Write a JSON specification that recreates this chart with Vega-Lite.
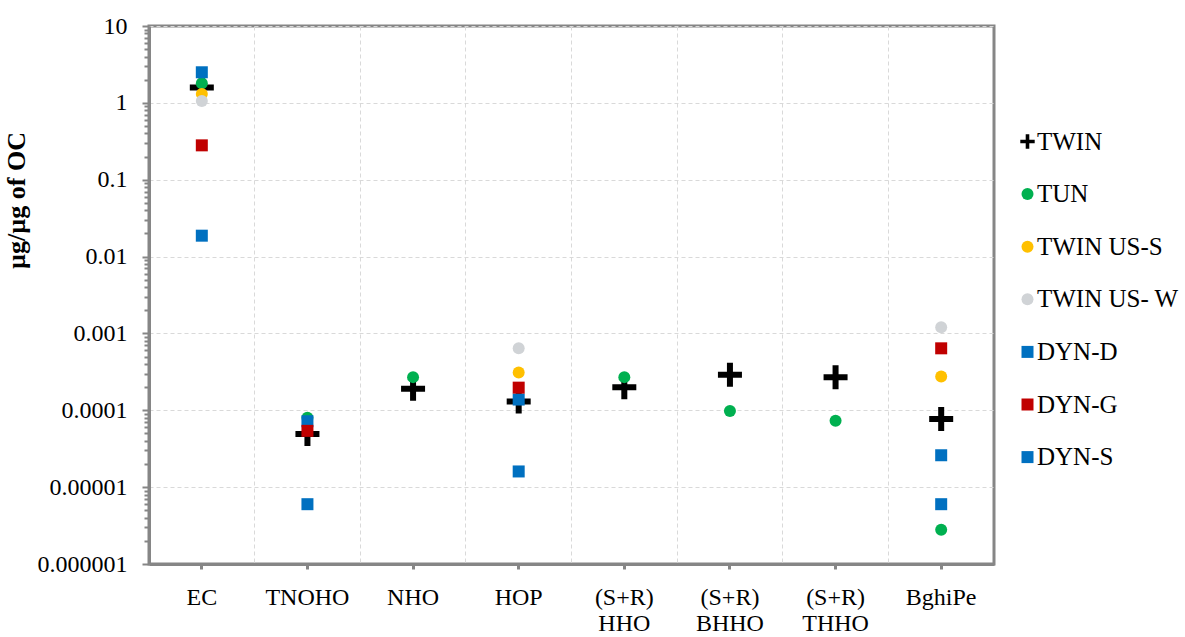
{
  "$schema": "https://vega.github.io/schema/vega-lite/v6.json",
  "width": 845,
  "height": 538,
  "autosize": {"type": "none"},
  "padding": {"left": 149, "top": 26, "right": 191, "bottom": 73},
  "background": "white",
  "config": {
    "font": "Liberation Serif",
    "view": {"stroke": "#868686", "strokeWidth": 3},
    "axis": {"labelFont": "Liberation Serif", "titleFont": "Liberation Serif"},
    "legend": {"labelFont": "Liberation Serif", "titleFont": "Liberation Serif"}
  },
  "data": {
    "values": [
      {"c": "EC", "s": "TWIN", "v": 1.58},
      {"c": "TNOHO", "s": "TWIN", "v": 0.000049},
      {"c": "NHO", "s": "TWIN", "v": 0.00019},
      {"c": "HOP", "s": "TWIN", "v": 0.00013},
      {"c": "(S+R) HHO", "s": "TWIN", "v": 0.0002},
      {"c": "(S+R) BHHO", "s": "TWIN", "v": 0.00029},
      {"c": "(S+R) THHO", "s": "TWIN", "v": 0.00027},
      {"c": "BghiPe", "s": "TWIN", "v": 0.000077},
      {"c": "EC", "s": "TUN", "v": 1.8},
      {"c": "TNOHO", "s": "TUN", "v": 0.00008},
      {"c": "NHO", "s": "TUN", "v": 0.00027},
      {"c": "(S+R) HHO", "s": "TUN", "v": 0.00027},
      {"c": "(S+R) BHHO", "s": "TUN", "v": 0.000098},
      {"c": "(S+R) THHO", "s": "TUN", "v": 0.000073},
      {"c": "BghiPe", "s": "TUN", "v": 0.0000028},
      {"c": "EC", "s": "TWIN US-S", "v": 1.3},
      {"c": "HOP", "s": "TWIN US-S", "v": 0.00031},
      {"c": "BghiPe", "s": "TWIN US-S", "v": 0.000275},
      {"c": "EC", "s": "TWIN US- W", "v": 1.06},
      {"c": "HOP", "s": "TWIN US- W", "v": 0.00064},
      {"c": "BghiPe", "s": "TWIN US- W", "v": 0.0012},
      {"c": "EC", "s": "DYN-D", "v": 2.5},
      {"c": "TNOHO", "s": "DYN-D", "v": 0.000072},
      {"c": "HOP", "s": "DYN-D", "v": 0.000138},
      {"c": "BghiPe", "s": "DYN-D", "v": 0.000026},
      {"c": "EC", "s": "DYN-G", "v": 0.28},
      {"c": "TNOHO", "s": "DYN-G", "v": 0.000054},
      {"c": "HOP", "s": "DYN-G", "v": 0.000197},
      {"c": "BghiPe", "s": "DYN-G", "v": 0.00064},
      {"c": "EC", "s": "DYN-S", "v": 0.0187},
      {"c": "TNOHO", "s": "DYN-S", "v": 0.000006},
      {"c": "HOP", "s": "DYN-S", "v": 0.000016},
      {"c": "BghiPe", "s": "DYN-S", "v": 0.000006}
    ]
  },
  "layer": [
    {
      "transform": [{"filter": "datum.s === 'TWIN'"}],
      "mark": {"type": "point", "filled": true, "opacity": 1, "size": 400, "strokeWidth": 0},
      "encoding": {
        "x": {
          "field": "c", "type": "nominal",
          "scale": {"type": "band", "domain": ["EC", "TNOHO", "NHO", "HOP", "(S+R) HHO", "(S+R) BHHO", "(S+R) THHO", "BghiPe"], "paddingInner": 0, "paddingOuter": 0},
          "axis": {"orient": "bottom", "title": null, "bandPosition": 0, "grid": true, "gridDash": [4, 3], "gridColor": "#d9d9d9", "gridWidth": 1, "ticks": false, "labels": false, "domain": false}
        },
        "y": {
          "field": "v", "type": "quantitative",
          "scale": {"type": "log", "domain": [0.000001, 10], "nice": false},
          "axis": {"orient": "left", "title": null, "grid": false, "labels": false, "domain": false, "ticks": true, "tickSize": 5, "tickWidth": 2, "tickColor": "#868686",
            "values": [2e-6, 3e-6, 4e-6, 5e-6, 6e-6, 7e-6, 8e-6, 9e-6, 2e-5, 3e-5, 4e-5, 5e-5, 6e-5, 7e-5, 8e-5, 9e-5, 2e-4, 3e-4, 4e-4, 5e-4, 6e-4, 7e-4, 8e-4, 9e-4, 0.002, 0.003, 0.004, 0.005, 0.006, 0.007, 0.008, 0.009, 0.02, 0.03, 0.04, 0.05, 0.06, 0.07, 0.08, 0.09, 0.2, 0.3, 0.4, 0.5, 0.6, 0.7, 0.8, 0.9, 2, 3, 4, 5, 6, 7, 8, 9]}
        },
        "color": {
          "field": "s", "type": "nominal",
          "scale": {"domain": ["TWIN", "TUN", "TWIN US-S", "TWIN US- W", "DYN-D", "DYN-G", "DYN-S"], "range": ["#000000", "#00b050", "#ffc000", "#d0d3d6", "#0070c0", "#c00000", "#0070c0"]},
          "legend": {"title": null, "orient": "none", "legendX": 866, "legendY": 103, "symbolSize": 144, "labelFontSize": 25, "labelColor": "#000000", "rowPadding": 26.6, "labelOffset": -3, "padding": 0, "symbolStrokeWidth": 0}
        },
        "shape": {
          "field": "s", "type": "nominal",
          "scale": {"domain": ["TWIN", "TUN", "TWIN US-S", "TWIN US- W", "DYN-D", "DYN-G", "DYN-S"], "range": ["M-1.2,-0.3H-0.3V-1.2H0.3V-0.3H1.2V0.3H0.3V1.2H-0.3V0.3H-1.2Z", "circle", "circle", "circle", "square", "square", "square"]},
          "legend": {"title": null, "orient": "none", "legendX": 866, "legendY": 103, "symbolSize": 144, "labelFontSize": 25, "labelColor": "#000000", "rowPadding": 26.6, "labelOffset": -3, "padding": 0, "symbolStrokeWidth": 0}
        }
      }
    },
    {
      "transform": [{"filter": "datum.s !== 'TWIN'"}],
      "mark": {"type": "point", "filled": true, "opacity": 1, "size": 144, "strokeWidth": 0},
      "encoding": {
        "x": {
          "field": "c", "type": "nominal",
          "axis": {"orient": "bottom", "title": null, "grid": false, "ticks": true, "tickSize": 5, "tickWidth": 3, "tickColor": "#868686", "domain": true, "domainColor": "#868686", "domainWidth": 3, "labelFontSize": 24, "labelColor": "#000000", "labelAngle": 0, "labelPadding": 16, "labelLineHeight": 26, "labelExpr": "split(datum.label, ' ')"}
        },
        "y": {
          "field": "v", "type": "quantitative",
          "axis": {"orient": "left", "title": "µg/µg of OC", "titleFontSize": 26, "titleFontWeight": "bold", "titleColor": "#000000", "titlePadding": 8, "titleY": 174, "grid": true, "gridDash": [4, 3], "gridColor": "#d9d9d9", "gridWidth": 1, "ticks": true, "tickSize": 7, "tickWidth": 2, "tickColor": "#868686", "domain": true, "domainColor": "#868686", "domainWidth": 3, "labelFontSize": 24, "labelColor": "#000000", "labelPadding": 15,
            "values": [0.000001, 0.00001, 0.0001, 0.001, 0.01, 0.1, 1, 10], "labelExpr": "format(datum.value, '.6~f')"}
        },
        "color": {"field": "s", "type": "nominal"},
        "shape": {"field": "s", "type": "nominal"}
      }
    }
  ],
  "resolve": {"axis": {"x": "independent", "y": "independent"}}
}
